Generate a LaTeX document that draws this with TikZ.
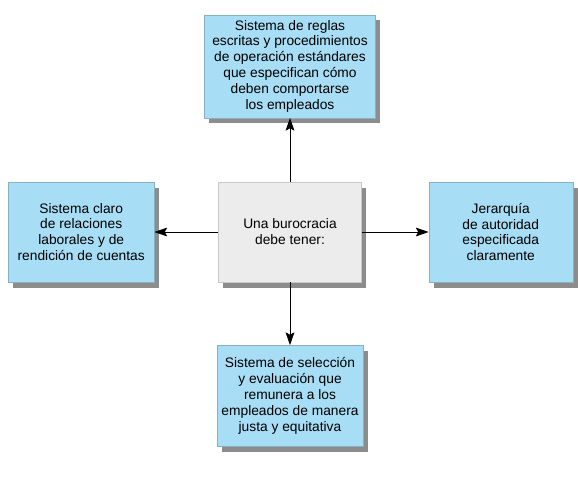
\documentclass[tikz,border=0pt]{standalone}
\usepackage{fontspec}
\setmainfont{Liberation Sans}
\usetikzlibrary{positioning, arrows.meta, shadows}
\definecolor{celeste}{RGB}{167,221,245}
\definecolor{grisclaro}{RGB}{236,236,236}
\tikzset{
  caja/.style={rectangle, minimum height=2.5cm, text centered, align=center, fill=celeste, draw=celeste!80!black, line width=0.2pt, drop shadow={shadow xshift=0.12cm, shadow yshift=-0.14cm, fill=black, opacity=0.45}},
  centro/.style={caja, fill=grisclaro, draw=grisclaro!85!black},
  arrow/.style={semithick, -{Stealth[length=3.2mm, width=2.2mm, inset=0.6mm]}}
}
\begin{document}
\begin{tikzpicture}[
            node distance=1.6cm,
            every node/.style={font=\fontsize{9.8}{11.3}\selectfont}
        ]
            \useasboundingbox (0,0) rectangle (14.45,-12);

            % Nodo central
            \node (buro) [centro, minimum width=3.575cm] at (7.25,-5.8) {Una burocracia\\debe tener:};

            % Nodos alrededor
            \node (reglas) [caja, above=of buro, minimum width=4.275cm, minimum height=2.575cm] {Sistema de reglas\\escritas y procedimientos\\de operación estándares\\que especifican cómo\\deben comportarse\\los empleados};
            \node (relaciones) [caja, left=of buro, minimum width=3.65cm] {Sistema claro\\de relaciones\\laborales y de\\rendición de cuentas};
            \node (jerarquia) [caja, right=1.675cm of buro, minimum width=3.6cm] {Jerarquía\\de autoridad\\especificada\\claramente};
            \node (seleccion) [caja, below=1.575cm of buro, minimum width=3.65cm, minimum height=2.525cm] {Sistema de selección\\y evaluación que\\remunera a los\\empleados de manera\\justa y equitativa};

            % Flechas desde el centro
            \draw [arrow] (buro) -- (reglas);
            \draw [arrow] (buro) -- (relaciones);
            \draw [arrow] (buro) -- (jerarquia);
            \draw [arrow] (buro) -- (seleccion);

        \end{tikzpicture}
\end{document}
